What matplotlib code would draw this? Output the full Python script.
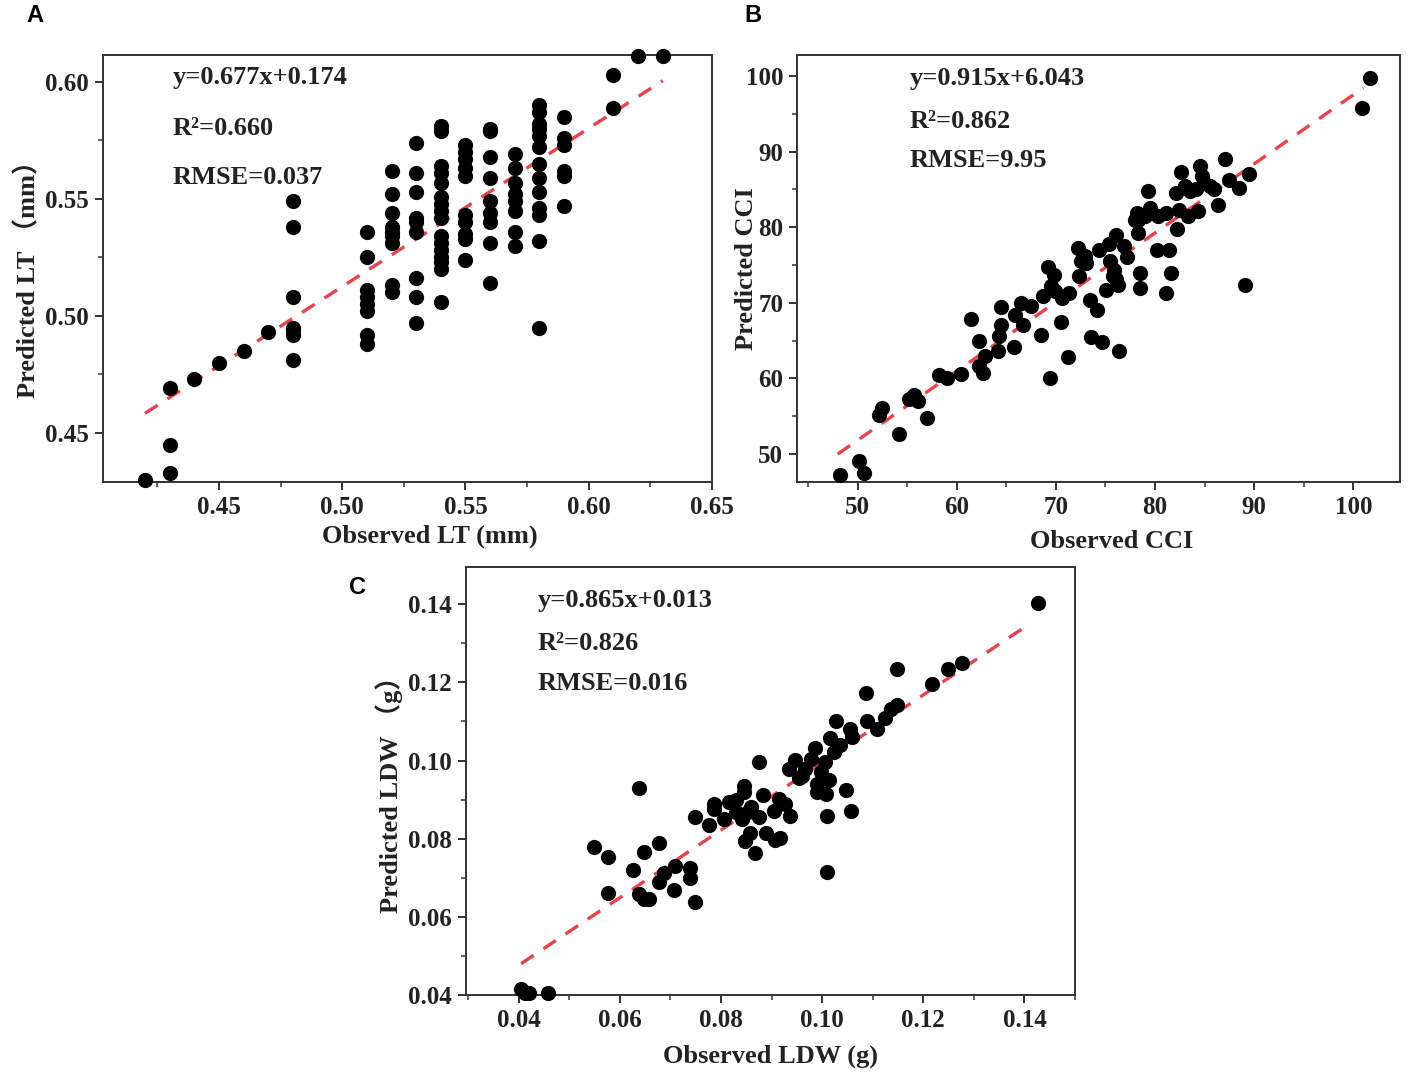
import matplotlib
matplotlib.use("Agg")
import matplotlib.pyplot as plt
from matplotlib.ticker import MultipleLocator, FormatStrFormatter

plt.rcParams['font.family'] = ['Liberation Serif', 'Noto Sans CJK SC']
plt.rcParams['font.weight'] = 'bold'
plt.rcParams['axes.labelweight'] = 'bold'

# ---- panel A: leaf thickness ----
lt_obs = [0.42,
          0.43, 0.43, 0.43,
          0.44, 0.45, 0.46, 0.47,
          0.48, 0.48, 0.48, 0.48, 0.48, 0.48, 0.48,
          0.51, 0.51, 0.51, 0.51, 0.51, 0.51, 0.51, 0.51,
          0.52, 0.52, 0.52, 0.52, 0.52, 0.52, 0.52, 0.52, 0.52,
          0.53, 0.53, 0.53, 0.53, 0.53, 0.53, 0.53, 0.53, 0.53,
          0.54, 0.54, 0.54, 0.54, 0.54, 0.54, 0.54, 0.54, 0.54, 0.54, 0.54, 0.54, 0.54, 0.54, 0.54, 0.54,
          0.55, 0.55, 0.55, 0.55, 0.55, 0.55, 0.55, 0.55, 0.55, 0.55,
          0.56, 0.56, 0.56, 0.56, 0.56, 0.56, 0.56, 0.56, 0.56,
          0.57, 0.57, 0.57, 0.57, 0.57, 0.57, 0.57, 0.57,
          0.58, 0.58, 0.58, 0.58, 0.58, 0.58, 0.58, 0.58, 0.58, 0.58, 0.58, 0.58, 0.58,
          0.59, 0.59, 0.59, 0.59, 0.59, 0.59,
          0.61, 0.61, 0.62, 0.63]
lt_pred = [0.430,
           0.469, 0.445, 0.433,
           0.473, 0.480, 0.485, 0.493,
           0.549, 0.538, 0.508, 0.495, 0.494, 0.492, 0.481,
           0.536, 0.525, 0.511, 0.508, 0.505, 0.502, 0.492, 0.488,
           0.562, 0.552, 0.544, 0.538, 0.536, 0.534, 0.531, 0.513, 0.510,
           0.574, 0.561, 0.553, 0.542, 0.540, 0.536, 0.516, 0.508, 0.497,
           0.581, 0.579, 0.564, 0.561, 0.557, 0.551, 0.548, 0.545, 0.542, 0.534, 0.531, 0.528, 0.525, 0.523, 0.520, 0.506,
           0.573, 0.570, 0.567, 0.563, 0.560, 0.543, 0.540, 0.535, 0.533, 0.524,
           0.580, 0.579, 0.568, 0.559, 0.549, 0.544, 0.540, 0.531, 0.514,
           0.569, 0.563, 0.557, 0.552, 0.549, 0.545, 0.536, 0.530,
           0.590, 0.587, 0.582, 0.580, 0.577, 0.572, 0.565, 0.559, 0.553, 0.546, 0.543, 0.532, 0.495,
           0.585, 0.576, 0.573, 0.562, 0.560, 0.547,
           0.603, 0.589, 0.611, 0.611]
lt_fit = (0.677, 0.174, 0.42, 0.63)   # slope, intercept, x start, x end
lt_text = ['y=0.677x+0.174', 'R²=0.660', 'RMSE=0.037']

# ---- panel B: chlorophyll content index ----
cci_obs = [48.2, 50.1, 50.7, 52.2, 52.5, 54.2, 55.2, 55.7, 56.1, 57.0,
           58.2, 59.0, 60.4, 61.4, 62.2, 62.2, 62.6, 62.9, 64.2, 64.3,
           64.5, 64.5, 65.8, 65.9, 66.7, 66.5, 67.5, 68.5, 68.7, 69.2,
           69.5, 69.8, 69.4, 70.5, 70.6, 71.2, 71.3, 72.2, 72.5, 72.3,
           72.9, 73.4, 73.5, 74.1, 74.6, 74.3, 75.1, 75.4, 75.5, 75.9,
           76.1, 76.1, 76.3, 76.9, 76.4, 78.2, 78.3, 78.5, 78.5, 78.3,
           79.3, 79.5, 80.3, 80.2, 81.1, 81.4, 81.6, 81.1, 82.1, 82.2,
           82.6, 82.4, 83.3, 83.5, 84.1, 84.5, 84.3, 84.7, 84.9, 85.5,
           85.9, 86.3, 87.1, 87.5, 88.5, 89.1, 89.5, 100.9, 101.7,
           69.9, 75.8, 77.2, 79.0, 83.0, 78.0, 73.0]
cci_pred = [47.2, 49.1, 47.5, 55.2, 56.1, 52.6, 57.3, 57.8, 57.0, 54.8,
            60.4, 60.1, 60.5, 67.9, 64.9, 61.6, 60.7, 62.9, 63.6, 65.6,
            67.0, 69.4, 64.1, 68.4, 67.1, 70.0, 69.6, 65.7, 70.9, 74.7,
            72.2, 73.7, 60.1, 67.4, 70.6, 62.8, 71.3, 77.3, 75.5, 73.6,
            76.2, 70.4, 65.4, 69.1, 64.8, 77.0, 71.7, 77.8, 75.5, 74.4,
            79.0, 73.1, 72.4, 77.5, 63.6, 81.9, 79.2, 74.0, 72.0, 81.0,
            84.8, 82.6, 81.5, 77.0, 81.9, 77.0, 74.0, 71.3, 84.5, 79.7,
            87.3, 82.3, 81.5, 84.8, 85.0, 88.1, 82.1, 86.8, 85.9, 85.4,
            85.0, 83.0, 89.1, 86.3, 85.2, 72.4, 87.0, 95.8, 99.7,
            71.5, 73.5, 76.0, 81.5, 85.5, 81.0, 75.2]
cci_fit = (0.915, 6.043, 48.0, 101.0)
cci_text = ['y=0.915x+6.043', 'R²=0.862', 'RMSE=9.95']

# ---- panel C: leaf dry weight ----
ldw_obs = [0.0405, 0.0413, 0.0421, 0.0458, 0.0548, 0.0577, 0.0577, 0.0627, 0.0637, 0.0647,
           0.0637, 0.0648, 0.0658, 0.0678, 0.0678, 0.0688, 0.0709, 0.0707, 0.0738, 0.0738,
           0.0748, 0.0748, 0.0777, 0.0787, 0.0787, 0.0805, 0.0816, 0.0830, 0.0841, 0.0845,
           0.0845, 0.0847, 0.0853, 0.0857, 0.0867, 0.0876, 0.0876, 0.0884, 0.0888, 0.0907,
           0.0917, 0.0914, 0.0927, 0.0937, 0.0935, 0.0946, 0.0954, 0.0966, 0.0977, 0.0985,
           0.0989, 0.0997, 0.1005, 0.1009, 0.1009, 0.1007, 0.1013, 0.1016, 0.1024, 0.1028,
           0.1036, 0.1048, 0.1055, 0.1058, 0.1059, 0.1086, 0.1089, 0.1108, 0.1125, 0.1137,
           0.1147, 0.1147, 0.1217, 0.1248, 0.1277, 0.1427,
           0.0860, 0.0830, 0.0960, 0.0990, 0.0905]
ldw_pred = [0.0415, 0.0406, 0.0404, 0.0406, 0.0780, 0.0754, 0.0662, 0.0719, 0.0930, 0.0767,
            0.0659, 0.0645, 0.0646, 0.0788, 0.0688, 0.0713, 0.0729, 0.0670, 0.0726, 0.0700,
            0.0639, 0.0855, 0.0836, 0.0889, 0.0876, 0.0851, 0.0894, 0.0868, 0.0851, 0.0934,
            0.0919, 0.0795, 0.0868, 0.0815, 0.0763, 0.0995, 0.0855, 0.0911, 0.0815, 0.0797,
            0.0803, 0.0902, 0.0889, 0.0859, 0.0978, 0.1001, 0.0954, 0.0979, 0.1005, 0.1031,
            0.0919, 0.0971, 0.0997, 0.0857, 0.0716, 0.0915, 0.0949, 0.1057, 0.1022, 0.1100,
            0.1039, 0.0925, 0.1081, 0.0870, 0.1061, 0.1173, 0.1102, 0.1081, 0.1110, 0.1132,
            0.1141, 0.1233, 0.1196, 0.1233, 0.1250, 0.1404,
            0.0880, 0.0900, 0.0960, 0.0940, 0.0870]
ldw_fit = (0.865, 0.013, 0.0405, 0.1413)
ldw_text = ['y=0.865x+0.013', 'R²=0.826', 'RMSE=0.016']

fig = plt.figure(figsize=(14.17, 10.77), dpi=100)
axA = fig.add_axes([0.0727, 0.5525, 0.4298, 0.3964])
axB = fig.add_axes([0.5625, 0.5527, 0.4255, 0.3962])
axC = fig.add_axes([0.3289, 0.0761, 0.4298, 0.3974])

panels = [
    (axA, lt_obs, lt_pred, lt_fit, lt_text, (0.403, 0.65), (0.429, 0.6115),
     0.05, 0.025, 0.05, 0.025, '%.2f', '%.2f',
     'Observed LT (mm)', 'Predicted LT （mm）',
     (0.537, -0.100), (-0.103, 0.49), (0.115, [0.948, 0.829, 0.714])),
    (axB, cci_obs, cci_pred, cci_fit, cci_text, (43.9, 104.7), (46.3, 102.8),
     10, 5, 10, 5, '%d', '%d',
     'Observed CCI', 'Predicted CCI',
     (0.522, -0.114), (-0.064, 0.50), (0.187, [0.944, 0.845, 0.752])),
    (axC, ldw_obs, ldw_pred, ldw_fit, ldw_text, (0.0296, 0.150), (0.040, 0.1495),
     0.02, 0.01, 0.02, 0.01, '%.2f', '%.2f',
     'Observed LDW (g)', 'Predicted LDW （g）',
     (0.50, -0.116), (-0.104, 0.484), (0.118, [0.921, 0.822, 0.727])),
]

for (ax, xs, ys, fit, texts, xlim, ylim, xmaj, xmin, ymaj, ymin, xfmt, yfmt,
     xlab, ylab, xlc, ylc, tpos) in panels:
    ax.scatter(xs, ys, s=120, color='black', zorder=3, clip_on=False, linewidths=0)
    k, b, x0, x1 = fit
    ax.plot([x0, x1], [k * x0 + b, k * x1 + b], color='#e8424a', lw=2.4,
            dashes=(4.5, 3.5), zorder=2)
    ax.set_xlim(xlim)
    ax.set_ylim(ylim)
    ax.xaxis.set_major_locator(MultipleLocator(xmaj))
    ax.xaxis.set_minor_locator(MultipleLocator(xmin))
    ax.yaxis.set_major_locator(MultipleLocator(ymaj))
    ax.yaxis.set_minor_locator(MultipleLocator(ymin))
    ax.xaxis.set_major_formatter(FormatStrFormatter(xfmt))
    ax.yaxis.set_major_formatter(FormatStrFormatter(yfmt))
    ax.tick_params(which='major', direction='out', length=6, width=1.3,
                   labelsize=18, colors='#222222', pad=4)
    ax.tick_params(which='minor', direction='out', length=3.5, width=1.2, colors='#444444')
    for sp in ax.spines.values():
        sp.set_linewidth(1.4)
        sp.set_color('#333333')
    ax.set_xlabel(xlab, fontsize=19, fontweight='bold', color='#222222')
    ax.set_ylabel(ylab, fontsize=19, fontweight='bold', color='#222222')
    ax.xaxis.set_label_coords(*xlc)
    ax.yaxis.set_label_coords(*ylc)
    tx, tys = tpos
    for t, ty in zip(texts, tys):
        ax.text(tx, ty, t, transform=ax.transAxes, fontsize=19, va='center', ha='left',
                color='#222222')

for lab, x, y in [('A', 35, 15), ('B', 753, 15), ('C', 358, 588)]:
    fig.text(x / 1417, 1 - y / 1077, lab, family='Liberation Sans', fontweight='bold',
             fontsize=17, ha='center', va='center')

fig.savefig('out.png', dpi=100)
